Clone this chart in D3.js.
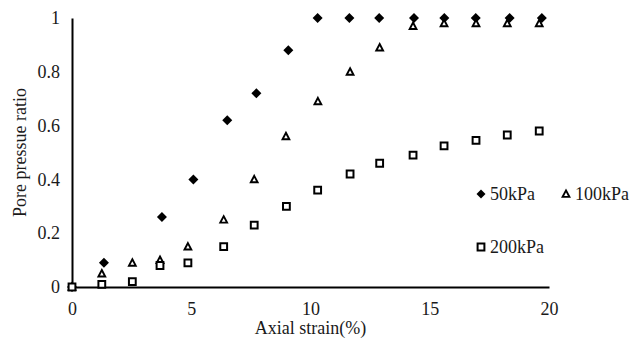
<!DOCTYPE html>
<html>
<head>
<meta charset="utf-8">
<script src="https://cdn.jsdelivr.net/npm/d3@7"></script>
<style>
  html, body { margin: 0; padding: 0; background: #fff; }
  svg { display: block; }
  text { font-family: "Liberation Serif", "Times New Roman", serif; fill: #1a1a1a; }
</style>
</head>
<body>
<svg id="chart" width="630" height="351"></svg>
<script>
// Axial strain (%) for each test
const strain50  = [0, 1.34, 3.77, 5.09, 6.51, 7.73, 9.07, 10.3, 11.63, 12.88, 14.34, 15.61, 16.93, 18.35, 19.7];
const strain100 = [0, 1.25, 2.53, 3.69, 4.86, 6.36, 7.64, 8.97, 10.31, 11.66, 12.9, 14.3, 15.6, 16.94, 18.25, 19.59];
const strain200 = [0, 1.25, 2.53, 3.69, 4.86, 6.36, 7.64, 8.99, 10.3, 11.66, 12.9, 14.3, 15.6, 16.94, 18.25, 19.59];

// Pore pressure ratio for each confining pressure
const ratio50  = [0, 0.09, 0.26, 0.40, 0.62, 0.72, 0.88, 1, 1, 1, 1, 1, 1, 1, 1];
const ratio100 = [0, 0.05, 0.09, 0.10, 0.15, 0.25, 0.40, 0.56, 0.69, 0.80, 0.89, 0.97, 0.98, 0.98, 0.98, 0.98];
const ratio200 = [0, 0.01, 0.02, 0.08, 0.09, 0.15, 0.23, 0.30, 0.36, 0.42, 0.46, 0.49, 0.525, 0.545, 0.565, 0.58];

const seriesNames = ["50kPa", "100kPa", "200kPa"];
const xTicks = [0, 5, 10, 15, 20];
const yTicks = [0, 0.2, 0.4, 0.6, 0.8, 1];

const FONT = '"Liberation Serif", "Times New Roman", serif';

const svg = d3.select("#chart");
const margin = { left: 72, right: 81, top: 18, bottom: 64 };
const W = 630, H = 351;

const x = d3.scaleLinear().domain([0, 20]).range([margin.left, W - margin.right]);
const y = d3.scaleLinear().domain([0, 1]).range([H - margin.bottom, margin.top]);

// marker shapes
const diamond = s => `M0,${-s}L${s},0L0,${s}L${-s},0Z`;
const triangle = s => `M0,${-s * 1.05}L${s},${s * 0.85}L${-s},${s * 0.85}Z`;
const square = s => `M${-s},${-s}H${s}V${s}H${-s}Z`;

const series = [
  { name: seriesNames[0], xs: strain50,  ys: ratio50,  path: diamond(5),    fill: "#000", stroke: "none", sw: 0 },
  { name: seriesNames[1], xs: strain100, ys: ratio100, path: triangle(3.4), fill: "#fff", stroke: "#000", sw: 1.9 },
  { name: seriesNames[2], xs: strain200, ys: ratio200, path: square(3.4),   fill: "#fff", stroke: "#000", sw: 2 }
];

// axes
const xAxis = svg.append("g")
  .attr("transform", `translate(0,${y(0)})`)
  .call(d3.axisBottom(x).tickValues(xTicks).tickSize(0).tickPadding(15).tickFormat(d3.format("d")))
  .attr("font-family", FONT).attr("font-size", 18);
xAxis.select(".domain").attr("stroke", "#000").attr("stroke-width", 2);
xAxis.selectAll("text").style("font-family", FONT).style("font-size", "18px").attr("fill", null);

const yAxis = svg.append("g")
  .attr("transform", `translate(${x(0)},0)`)
  .call(d3.axisLeft(y).tickValues(yTicks).tickSize(0).tickPadding(12).tickFormat(d => d === 0 || d === 1 ? d3.format("d")(d) : d3.format(".1f")(d)))
  .attr("font-family", FONT).attr("font-size", 18);
yAxis.select(".domain").attr("stroke", "#000").attr("stroke-width", 2);
yAxis.selectAll("text").style("font-family", FONT).style("font-size", "18px").attr("fill", null);

// axis titles
svg.append("text")
  .attr("x", (x(0) + x(20)) / 2)
  .attr("y", 334)
  .attr("text-anchor", "middle")
  .style("font-size", "18px")
  .text("Axial strain(%)");

svg.append("text")
  .attr("transform", `translate(26,${(y(0) + y(1)) / 2}) rotate(-90)`)
  .attr("text-anchor", "middle")
  .style("font-size", "18px")
  .text("Pore pressue ratio");

// data points
series.forEach(s => {
  const pts = s.xs.map((v, i) => [v, s.ys[i]]);
  svg.append("g").selectAll("path")
    .data(pts)
    .join("path")
    .attr("d", s.path)
    .attr("transform", d => `translate(${x(d[0])},${y(d[1])})`)
    .attr("fill", s.fill)
    .attr("stroke", s.stroke)
    .attr("stroke-width", s.sw);
});

// legend
const legendItems = [
  { s: series[0], lx: 481, ly: 194 },
  { s: series[1], lx: 566, ly: 194 },
  { s: series[2], lx: 481, ly: 247 }
];
const legend = svg.append("g");
legendItems.forEach(it => {
  legend.append("path")
    .attr("d", it.s === series[0] ? diamond(4.5) : it.s.path)
    .attr("transform", `translate(${it.lx},${it.ly})`)
    .attr("fill", it.s.fill)
    .attr("stroke", it.s.stroke)
    .attr("stroke-width", it.s.sw);
  legend.append("text")
    .attr("x", it.lx + 9)
    .attr("y", it.ly + 6)
    .style("font-size", "18px")
    .text(it.s.name);
});
</script>
</body>
</html>
